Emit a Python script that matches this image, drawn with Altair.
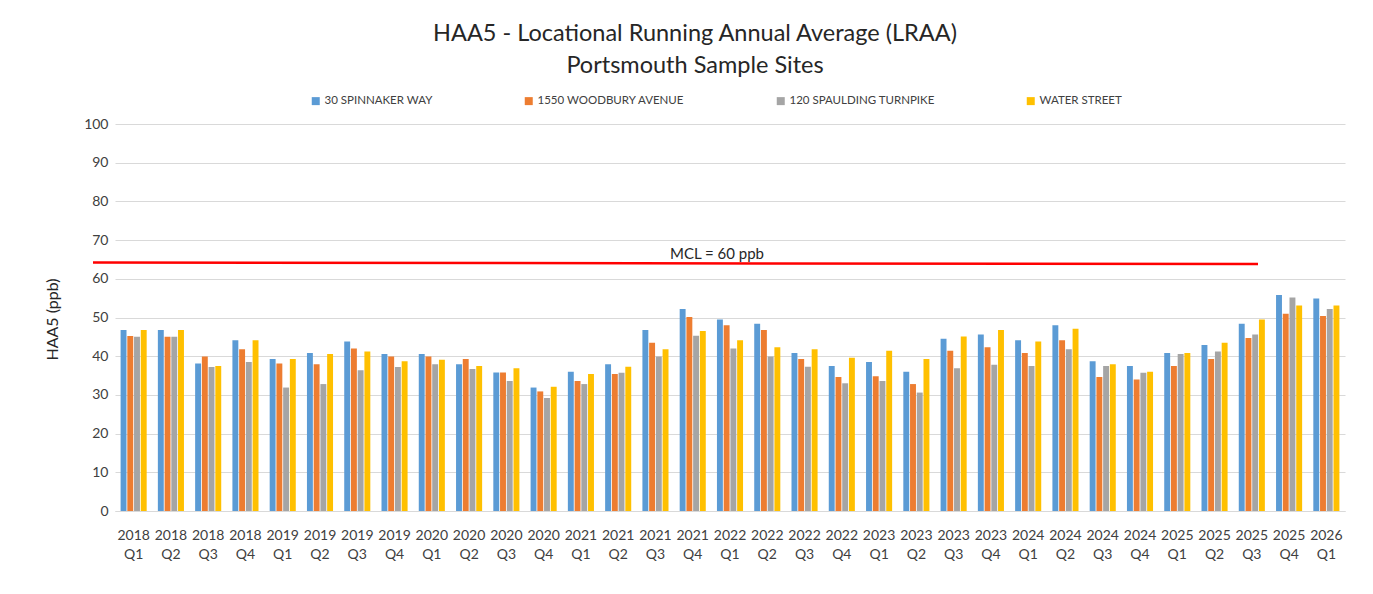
import altair as alt
import pandas as pd

quarters = [
    "2018 Q1", "2018 Q2", "2018 Q3", "2018 Q4",
    "2019 Q1", "2019 Q2", "2019 Q3", "2019 Q4",
    "2020 Q1", "2020 Q2", "2020 Q3", "2020 Q4",
    "2021 Q1", "2021 Q2", "2021 Q3", "2021 Q4",
    "2022 Q1", "2022 Q2", "2022 Q3", "2022 Q4",
    "2023 Q1", "2023 Q2", "2023 Q3", "2023 Q4",
    "2024 Q1", "2024 Q2", "2024 Q3", "2024 Q4",
    "2025 Q1", "2025 Q2", "2025 Q3", "2025 Q4",
    "2026 Q1",
]

sites = ["30 SPINNAKER WAY", "1550 WOODBURY AVENUE", "120 SPAULDING TURNPIKE", "WATER STREET"]
site_colors = ["#5B9BD5", "#ED7D31", "#A5A5A5", "#FFC000"]

spinnaker = [46.8, 46.8, 38.1, 44.1, 39.3, 40.8, 43.8, 40.6,
             40.6, 37.9, 35.8, 31.9, 36.0, 37.9, 46.8, 52.2,
             49.5, 48.4, 40.8, 37.5, 38.5, 36.0, 44.5, 45.6,
             44.1, 48.0, 38.7, 37.5, 40.8, 42.9, 48.4, 55.8,
             54.9]
woodbury = [45.2, 45.0, 39.9, 41.8, 38.1, 37.9, 42.0, 39.9,
            39.9, 39.3, 35.8, 30.9, 33.6, 35.4, 43.5, 50.1,
            48.0, 46.8, 39.3, 34.6, 34.8, 32.8, 41.4, 42.3,
            40.8, 44.1, 34.6, 34.0, 37.5, 39.3, 44.7, 51.0,
            50.4]
spaulding = [45.0, 45.0, 37.2, 38.5, 31.9, 32.8, 36.4, 37.2,
             37.9, 36.7, 33.6, 29.2, 32.8, 35.7, 39.9, 45.3,
             42.0, 39.9, 37.3, 33.0, 33.6, 30.6, 36.9, 37.8,
             37.5, 41.8, 37.5, 35.7, 40.6, 41.2, 45.6, 55.2,
             52.2]
water = [46.8, 46.8, 37.5, 44.1, 39.3, 40.6, 41.2, 38.7,
         39.1, 37.5, 36.9, 32.1, 35.4, 37.3, 41.8, 46.5,
         44.1, 42.3, 41.8, 39.6, 41.4, 39.3, 45.1, 46.8,
         43.8, 47.1, 37.9, 36.0, 40.8, 43.5, 49.5, 53.1,
         53.1]

mcl_level = [64.2, 63.8]
mcl_label = "MCL = 60 ppb"
y_ticks = [0, 10, 20, 30, 40, 50, 60, 70, 80, 90, 100]

series = [spinnaker, woodbury, spaulding, water]
rows = []
for site, vals in zip(sites, series):
    for q, v in zip(quarters, vals):
        rows.append({"quarter": q, "site": site, "value": v})
df = pd.DataFrame(rows)

FONT = "Lato"
TXT = "#404040"

y_scale = alt.Scale(domain=[0, 100], nice=False)
y_axis = alt.Axis(title="HAA5 (ppb)", values=y_ticks, labelFontSize=14,
                  labelColor=TXT, labelFont=FONT, labelPadding=7,
                  ticks=False, domain=False, gridColor="#d9d9d9",
                  titleFont=FONT, titleFontSize=16, titleFontWeight="normal",
                  titleColor="#262626", titleX=-55, titleY=195)

bars = alt.Chart(df).mark_bar().encode(
    x=alt.X("quarter:N", sort=quarters,
            scale=alt.Scale(paddingInner=0.3, paddingOuter=0.15),
            axis=alt.Axis(title=None, labelAngle=0, labelExpr="split(datum.label, ' ')",
                          labelFontSize=14, labelColor=TXT, labelFont=FONT,
                          labelLineHeight=19, labelPadding=17, ticks=False,
                          domain=True, domainColor="#d9d9d9", grid=False)),
    xOffset=alt.XOffset("site:N", sort=sites, scale=alt.Scale(paddingInner=0.12)),
    y=alt.Y("value:Q", scale=y_scale, axis=y_axis),
    color=alt.Color("site:N", sort=sites,
                    scale=alt.Scale(domain=sites, range=site_colors),
                    legend=alt.Legend(title=None, orient="none", direction="horizontal",
                                      legendX=195, legendY=-29, columns=4,
                                      symbolType="square", symbolSize=64,
                                      symbolStrokeWidth=0, labelFontSize=11.5,
                                      labelFont=FONT, labelColor=TXT, labelOffset=3,
                                      columnPadding=90, padding=0,
                                      labelLimit=300)),
)

mcl_line = alt.Chart(pd.DataFrame({"a": [0]})).mark_rule(color="#FF0000", strokeWidth=2.5).encode(
    x=alt.value(-22), x2=alt.value(1143),
    y=alt.YDatum(mcl_level[0], scale=y_scale, axis=y_axis),
    y2=alt.datum(mcl_level[1]),
)

mcl_text = alt.Chart(pd.DataFrame({"a": [0]})).mark_text(
    text=mcl_label, fontSize=15, font=FONT, color="#262626", baseline="middle"
).encode(x=alt.value(602), y=alt.YDatum(66.3, scale=y_scale, axis=y_axis))

chart = alt.layer(bars, mcl_line, mcl_text).properties(
    width=1230, height=387,
    background="white",
    title=alt.TitleParams(
        text=["HAA5 - Locational Running Annual Average (LRAA)", "Portsmouth Sample Sites"],
        fontSize=23.5, font=FONT, fontWeight="normal", color="#262626",
        lineHeight=32, anchor="middle", dx=-35, offset=18),
    autosize=alt.AutoSizeParams(type="none"),
    padding={"left": 107, "top": 116, "right": 20, "bottom": 75},
).configure_view(strokeWidth=0, stroke="transparent")

chart.save("out.html", embed_options={"renderer": "svg", "actions": False})
